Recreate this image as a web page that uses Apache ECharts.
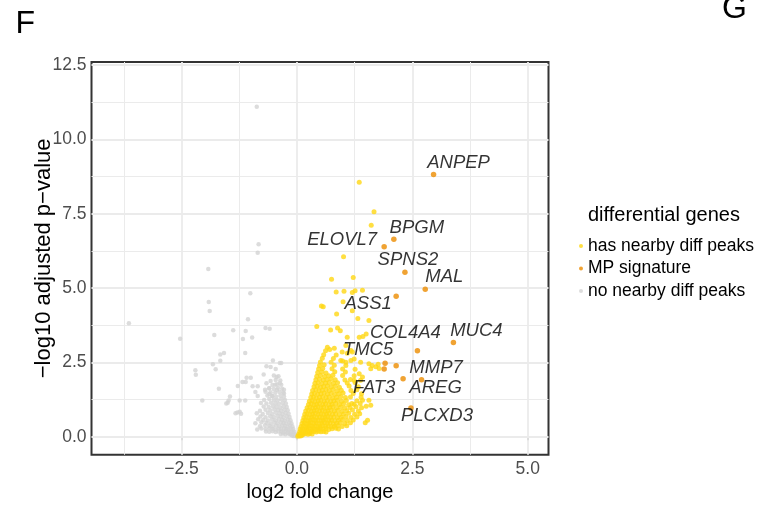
<!DOCTYPE html>
<html>
<head>
<meta charset="utf-8">
<script src="https://cdn.jsdelivr.net/npm/echarts@6/dist/echarts.min.js"></script>
<style>
  html, body { margin: 0; padding: 0; background: #ffffff; }
  #chart { width: 763px; height: 508px; }
</style>
</head>
<body>
<div id="chart"></div>
<script>
// Legend categories
const legendNames = ['has nearby diff peaks', 'MP signature', 'no nearby diff peaks'];

// Axis tick values
const xTicks = [-2.5, 0, 2.5, 5];
const yTicks = [0, 2.5, 5, 7.5, 10, 12.5];
const xMinorTicks = [-3.75, -1.25, 1.25, 3.75];
const yMinorTicks = [1.25, 3.75, 6.25, 8.75, 11.25];

// MP signature genes: name, log2 fold change, -log10 adjusted p-value
const mpGenes = ['ANPEP', 'BPGM', 'ELOVL7', 'SPNS2', 'MAL', 'ASS1', 'COL4A4', 'MUC4',
                 'TMC5', 'FAT3', '', 'MMP7', 'AREG', 'PLCXD3'];
const mpLogFC = [2.96, 2.10, 1.89, 2.34, 2.78, 2.15, 2.61, 3.39, 1.91, 1.89, 2.15, 2.30, 2.70, 2.47];
const mpLogP  = [8.82, 6.64, 6.39, 5.53, 4.96, 4.73, 2.89, 3.17, 2.47, 2.28, 2.39, 1.95, 1.92, 0.97];

// Genes with nearby differential peaks [log2FC, -log10 padj]
const peakGenes = [
  [1.35,8.56],[1.67,7.57],[1.61,7.11],[1.01,6.05],[0.75,5.30],[1.22,5.36],[0.85,4.87],[1.20,4.85],
  [1.42,4.93],[1.02,4.89],[1.26,4.91],[0.57,4.37],[1.00,4.54],[0.86,4.13],[1.20,4.24],[1.32,3.98],
  [1.56,3.91],[0.43,3.71],[0.73,3.59],[0.88,3.66],[0.94,3.57],[1.09,3.35],[1.35,3.35],[1.43,3.37],
  [1.50,3.46],[1.06,3.07],[0.66,3.01],[0.71,2.94],[0.81,2.98],[1.17,2.90],[0.98,2.85],[1.20,2.85],
  [1.09,2.81],[0.95,2.57],[1.06,2.51],[1.17,2.57],[1.24,2.62],[1.38,2.51],[1.56,2.46],[1.63,2.40],
  [1.60,2.29],[1.71,2.36],[1.76,2.44],[1.78,2.30],[1.35,2.12],[1.42,2.01],[1.24,1.90],[1.38,1.90],
  [1.33,1.68],[1.40,1.45],[1.42,1.23],[1.56,1.23],[1.50,1.03],[1.48,0.47],[1.53,0.56],[1.60,1.06],
  [1.19,1.12],[0.53,4.40],
  [0.02,0.02],[0.05,0.04],[0.08,0.03],[0.11,0.05],
  [0.04,0.09],[0.08,0.11],[0.12,0.08],[0.16,0.1],[0.2,0.12],[0.24,0.09],[0.28,0.11],[0.33,0.1],
  [0.06,0.17],[0.1,0.19],[0.14,0.16],[0.19,0.18],[0.23,0.2],[0.28,0.17],[0.32,0.19],[0.37,0.18],[0.42,0.16],[0.47,0.19],[0.52,0.17],[0.58,0.18],[0.63,0.16],
  [0.07,0.26],[0.12,0.28],[0.16,0.25],[0.21,0.27],[0.26,0.29],[0.31,0.26],[0.36,0.28],[0.41,0.25],[0.46,0.27],[0.51,0.29],[0.57,0.26],[0.63,0.28],[0.69,0.25],[0.76,0.27],[0.84,0.29],[0.9,0.26],
  [0.09,0.35],[0.14,0.37],[0.19,0.34],[0.24,0.36],[0.29,0.38],[0.34,0.35],[0.39,0.37],[0.45,0.34],[0.5,0.36],[0.56,0.38],[0.62,0.35],[0.68,0.37],[0.74,0.34],[0.81,0.36],[0.89,0.38],[0.98,0.35],[1.08,0.37],
  [0.11,0.45],[0.16,0.47],[0.21,0.44],[0.26,0.46],[0.31,0.48],[0.37,0.45],[0.42,0.47],[0.48,0.44],[0.54,0.46],[0.6,0.48],[0.66,0.45],[0.72,0.47],[0.79,0.44],[0.86,0.46],[0.94,0.48],[1.04,0.45],[1.16,0.47],
  [0.13,0.55],[0.18,0.57],[0.24,0.54],[0.29,0.56],[0.35,0.58],[0.4,0.55],[0.46,0.57],[0.52,0.54],[0.57,0.56],[0.63,0.58],[0.69,0.55],[0.75,0.57],[0.82,0.54],[0.9,0.56],[0.99,0.58],[1.09,0.55],[1.22,0.57],
  [0.15,0.65],[0.2,0.67],[0.26,0.64],[0.32,0.66],[0.37,0.68],[0.43,0.65],[0.49,0.67],[0.55,0.64],[0.61,0.66],[0.67,0.68],[0.73,0.65],[0.8,0.67],[0.88,0.64],[0.96,0.66],[1.06,0.68],[1.17,0.65],[1.3,0.67],
  [0.17,0.76],[0.22,0.78],[0.28,0.75],[0.34,0.77],[0.4,0.79],[0.46,0.76],[0.52,0.78],[0.58,0.75],[0.64,0.77],[0.7,0.79],[0.77,0.76],[0.84,0.78],[0.92,0.75],[1.01,0.77],[1.12,0.79],[1.25,0.76],[1.36,0.78],
  [0.19,0.87],[0.25,0.89],[0.31,0.86],[0.37,0.88],[0.43,0.9],[0.49,0.87],[0.55,0.89],[0.61,0.86],[0.67,0.88],[0.74,0.9],[0.81,0.87],[0.89,0.89],[0.98,0.86],[1.08,0.88],[1.2,0.9],[1.33,0.87],
  [0.22,0.98],[0.28,1.0],[0.34,0.97],[0.4,0.99],[0.46,1.01],[0.52,0.98],[0.58,1.0],[0.65,0.97],[0.71,0.99],[0.78,1.01],[0.86,0.98],[0.95,1.0],[1.04,0.97],[1.15,0.99],[1.28,1.01],[1.4,0.98],
  [0.25,1.09],[0.31,1.11],[0.37,1.08],[0.43,1.1],[0.49,1.12],[0.56,1.09],[0.62,1.11],[0.69,1.08],[0.76,1.1],[0.84,1.12],[0.92,1.09],[1.01,1.11],[1.12,1.08],[1.24,1.1],[1.37,1.12],
  [0.27,1.2],[0.33,1.22],[0.39,1.19],[0.46,1.21],[0.52,1.23],[0.59,1.2],[0.66,1.22],[0.73,1.19],[0.8,1.21],[0.88,1.23],[0.97,1.2],[1.07,1.22],[1.3,1.21],
  [0.3,1.32],[0.36,1.34],[0.42,1.31],[0.49,1.33],[0.56,1.35],[0.63,1.32],[0.7,1.34],[0.78,1.31],[0.86,1.33],[0.95,1.35],[1.05,1.32],[1.16,1.34],[1.39,1.33],
  [0.32,1.44],[0.38,1.46],[0.45,1.43],[0.52,1.45],[0.59,1.47],[0.66,1.44],[0.74,1.46],[0.82,1.43],[0.91,1.45],[1.0,1.47],[1.22,1.46],
  [0.34,1.56],[0.41,1.58],[0.48,1.55],[0.55,1.57],[0.63,1.59],[0.7,1.56],[0.78,1.58],[0.87,1.55],[0.96,1.57],[1.17,1.56],[1.3,1.58],
  [0.37,1.68],[0.44,1.7],[0.51,1.67],[0.58,1.69],[0.66,1.71],[0.74,1.68],[0.83,1.7],[0.92,1.67],[1.13,1.71],
  [0.39,1.8],[0.46,1.82],[0.54,1.79],[0.62,1.81],[0.7,1.83],[0.79,1.8],[0.88,1.82],[1.09,1.81],[1.26,1.83],
  [0.41,1.92],[0.49,1.94],[0.57,1.91],[0.65,1.93],[0.74,1.95],[0.83,1.92],[1.04,1.91],[1.16,1.93],
  [0.43,2.04],[0.51,2.06],[0.6,2.03],[0.69,2.05],[0.78,2.07],[0.99,2.06],[1.24,2.05],
  [0.45,2.16],[0.54,2.18],[0.63,2.15],[0.82,2.19],[1.05,2.18],
  [0.47,2.28],[0.56,2.3],[0.76,2.29],[0.99,2.28],[1.26,2.27],
  [0.49,2.4],[0.59,2.42],[0.81,2.41],[1.06,2.4],
  [0.51,2.52],[0.74,2.51],[0.99,2.55],
  [0.55,2.64],[0.79,2.63],
  [0.58,2.76],[0.85,2.75],
  [0.62,2.89]
];

// Genes without nearby differential peaks [log2FC, -log10 padj]
const otherGenes = [
  [-0.87,11.10],[-0.83,6.47],[-0.85,6.19],[-1.92,5.64],[-1.01,4.83],[-1.91,4.53],[-1.89,4.23],[-3.64,3.82],
  [-1.06,3.95],[-1.38,3.58],[-1.11,3.56],[-0.68,3.66],[-0.59,3.63],[-2.53,3.30],[-1.79,3.42],[-1.17,3.29],
  [-0.97,3.34],[-1.12,2.82],[-1.58,2.82],[-1.66,2.77],[-1.66,2.56],[-0.52,2.57],[-0.37,2.48],[-0.34,2.48],
  [-1.82,2.44],[-0.66,2.37],[-0.57,2.35],[-0.46,2.28],[-1.76,2.27],[-2.20,2.24],[-2.19,2.09],[-0.72,2.10],
  [-0.44,2.01],[-1.09,1.99],[-1.00,1.99],[-1.18,1.84],[-1.11,1.84],[-0.66,1.80],[-0.37,1.80],[-0.47,1.75],
  [-1.28,1.71],[-0.96,1.70],[-0.85,1.70],[-0.60,1.63],[-1.69,1.62],[-0.69,1.58],[-0.43,1.58],[-0.28,1.58],
  [-0.90,1.51],[-0.28,1.46],[-0.60,1.44],[-0.85,1.37],[-0.53,1.37],[-1.45,1.36],[-1.24,1.22],[-1.12,1.22],
  [-1.48,1.22],[-1.50,1.15],[-1.53,1.12],[-2.05,1.22],[-1.29,0.82],[-1.24,0.84],[-1.33,0.79],[-1.21,0.78],
  [-0.02,0.02],[-0.05,0.04],[-0.08,0.03],[-0.11,0.05],
  [-0.04,0.09],[-0.08,0.11],[-0.12,0.08],[-0.16,0.1],[-0.2,0.12],[-0.25,0.09],[-0.3,0.11],[-0.35,0.1],
  [-0.06,0.17],[-0.1,0.19],[-0.14,0.16],[-0.19,0.18],[-0.24,0.2],[-0.29,0.17],[-0.34,0.19],[-0.4,0.18],[-0.46,0.16],[-0.53,0.19],[-0.6,0.17],[-0.67,0.18],
  [-0.08,0.26],[-0.13,0.28],[-0.18,0.25],[-0.23,0.27],[-0.28,0.29],[-0.34,0.26],[-0.4,0.28],[-0.46,0.25],[-0.53,0.27],[-0.6,0.29],[-0.68,0.26],[-0.77,0.28],[-0.86,0.25],
  [-0.1,0.36],[-0.15,0.38],[-0.2,0.35],[-0.26,0.37],[-0.32,0.39],[-0.38,0.36],[-0.45,0.38],[-0.52,0.35],[-0.6,0.37],[-0.69,0.39],[-0.8,0.36],
  [-0.12,0.46],[-0.17,0.48],[-0.23,0.45],[-0.29,0.47],[-0.35,0.49],[-0.42,0.46],[-0.49,0.48],[-0.57,0.45],[-0.66,0.47],[-0.77,0.49],[-0.9,0.46],
  [-0.14,0.56],[-0.2,0.58],[-0.26,0.55],[-0.32,0.57],[-0.39,0.59],[-0.46,0.56],[-0.54,0.58],[-0.63,0.55],[-0.73,0.57],[-0.84,0.59],
  [-0.16,0.67],[-0.22,0.69],[-0.29,0.66],[-0.35,0.68],[-0.42,0.7],[-0.5,0.67],[-0.58,0.69],[-0.68,0.66],[-0.79,0.68],
  [-0.18,0.78],[-0.25,0.8],[-0.31,0.77],[-0.38,0.79],[-0.46,0.81],[-0.54,0.78],[-0.63,0.8],[-0.74,0.77],[-0.87,0.79],
  [-0.2,0.89],[-0.27,0.91],[-0.34,0.88],[-0.41,0.9],[-0.49,0.92],[-0.58,0.89],[-0.68,0.91],[-0.8,0.88],
  [-0.22,1.0],[-0.29,1.02],[-0.36,0.99],[-0.44,1.01],[-0.52,1.03],[-0.61,1.0],[-0.72,1.02],
  [-0.24,1.12],[-0.31,1.14],[-0.39,1.11],[-0.47,1.13],[-0.56,1.15],[-0.66,1.12],[-0.78,1.14],
  [-0.26,1.24],[-0.34,1.26],[-0.42,1.23],[-0.5,1.25],[-0.6,1.27],[-0.71,1.24],
  [-0.28,1.36],[-0.36,1.38],[-0.45,1.35],[-0.54,1.37],[-0.64,1.39],
  [-0.3,1.49],[-0.38,1.51],[-0.47,1.48],[-0.57,1.5],[-0.68,1.52],
  [-0.32,1.62],[-0.41,1.64],[-0.5,1.61],[-0.6,1.63],
  [-0.34,1.75],[-0.43,1.77],[-0.53,1.74],
  [-0.36,1.89],[-0.46,1.91],[-0.57,1.88],
  [-0.4,2.04],[-0.5,2.06]
];

// Label placement (pixel offset from each point)
const labelOffset = {
  ANPEP: [25, -12], BPGM: [23, -11], ELOVL7: [-42, -7], SPNS2: [3, -12], MAL: [19, -12],
  ASS1: [-28, 8], COL4A4: [-12, -18], MUC4: [23, -12], TMC5: [-17, -14], FAT3: [-10, 19],
  MMP7: [33, -11], AREG: [14, 8], PLCXD3: [26, 8]
};

const FONT = 'Liberation Sans, Arial, Helvetica, sans-serif';
const GRID_COLOR = '#EBEBEB';
const COLORS = { peak: '#FFD713', mp: '#EC8C00', other: '#D3D3D3' };

const fmt = v => (v < 0 ? '\u2212' : '') + Math.abs(v).toFixed(1);

const gridLines = [];
xTicks.forEach(v => gridLines.push({ xAxis: v, lineStyle: { width: 1.8 } }));
xMinorTicks.forEach(v => gridLines.push({ xAxis: v, lineStyle: { width: 1.0 } }));
yTicks.forEach(v => gridLines.push({ yAxis: v, lineStyle: { width: 1.8 } }));
yMinorTicks.forEach(v => gridLines.push({ yAxis: v, lineStyle: { width: 1.0 } }));

const mpData = mpGenes.map((g, i) => ({ name: g, value: [mpLogFC[i], mpLogP[i]] }));

const chart = echarts.init(document.getElementById('chart'), null, { renderer: 'canvas' });
chart.setOption({
  animation: false,
  backgroundColor: '#ffffff',
  textStyle: { fontFamily: FONT },
  grid: {
    left: 91.5, top: 62, width: 457, height: 392.7,
    show: true, borderColor: '#333333', borderWidth: 2, backgroundColor: 'transparent'
  },
  xAxis: {
    type: 'value', min: -4.45, max: 5.45,
    name: 'log2 fold change', nameLocation: 'middle', nameGap: 26,
    nameTextStyle: { fontSize: 20, color: '#000', fontFamily: FONT },
    axisLine: { show: false },
    axisTick: { show: true, length: 3.5, customValues: xTicks, lineStyle: { color: '#333333', width: 1.5 } },
    axisLabel: { customValues: xTicks, formatter: fmt, fontSize: 17.5, color: '#4D4D4D', margin: 5, fontFamily: FONT },
    splitLine: { show: false }
  },
  yAxis: {
    type: 'value', min: -0.6, max: 12.6,
    name: '\u2212log10 adjusted p\u2212value', nameLocation: 'middle', nameGap: 37, nameRotate: 90,
    nameMoveOverlap: false,
    nameTextStyle: { fontSize: 22, color: '#000', fontFamily: FONT },
    axisLine: { show: false },
    axisTick: { show: true, length: 3.5, customValues: yTicks, lineStyle: { color: '#333333', width: 1.5 } },
    axisLabel: { customValues: yTicks, formatter: fmt, fontSize: 17.5, color: '#4D4D4D', margin: 5, fontFamily: FONT },
    splitLine: { show: false }
  },
  legend: {
    orient: 'vertical', left: 574, top: 231,
    itemWidth: 4, itemHeight: 4, itemGap: 2.5,
    icon: 'circle',
    data: legendNames,
    textStyle: { fontSize: 17.5, color: '#000', lineHeight: 20, fontFamily: FONT }
  },
  graphic: [
    { type: 'text', left: 15.5, top: 8, style: { text: 'F', fontSize: 32, fontFamily: FONT, fill: '#000' } },
    { type: 'text', left: 722, top: -7, style: { text: 'G', fontSize: 32, fontFamily: FONT, fill: '#000' } },
    { type: 'text', left: 588, top: 205, style: { text: 'differential genes', fontSize: 20, fontFamily: FONT, fill: '#000' } }
  ],
  series: [
    {
      name: 'gridlines', type: 'scatter', data: [], silent: true, z: 1,
      markLine: {
        z: 1, silent: true, symbol: ['none', 'none'], label: { show: false },
        lineStyle: { color: GRID_COLOR, type: 'solid' }, data: gridLines, animation: false
      }
    },
    {
      name: legendNames[2], type: 'scatter', data: otherGenes, symbolSize: 4.5,
      itemStyle: { color: COLORS.other }, z: 2
    },
    {
      name: legendNames[0], type: 'scatter', data: peakGenes, symbolSize: 5,
      itemStyle: { color: COLORS.peak }, z: 3
    },
    {
      name: legendNames[1], type: 'scatter', data: mpData, symbolSize: 5.5,
      itemStyle: { color: COLORS.mp }, z: 4,
      label: {
        show: true, position: 'inside', formatter: p => p.name,
        fontSize: 18.5, fontStyle: 'italic', color: '#000', fontFamily: FONT,
        textBorderWidth: 0, textBorderColor: 'transparent'
      },
      labelLayout: params => {
        const o = labelOffset[mpGenes[params.dataIndex]] || [0, 0];
        return { dx: o[0], dy: o[1], hideOverlap: false };
      }
    }
  ]
});
</script>
</body>
</html>
